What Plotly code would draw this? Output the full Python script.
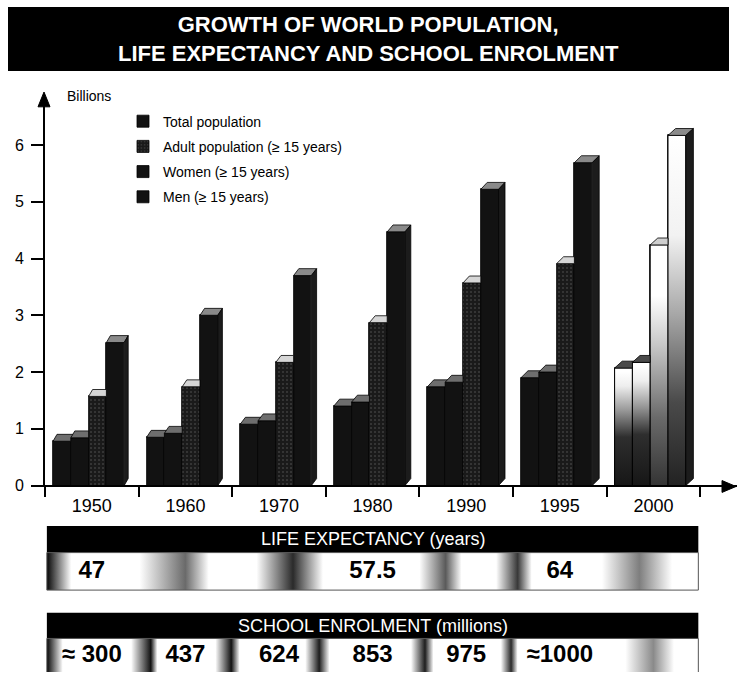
import plotly.graph_objects as go

# ---------------------------------------------------------------- data
years = [1950, 1960, 1970, 1980, 1990, 1995, 2000]
total_pop = [2.52, 3.00, 3.70, 4.47, 5.22, 5.69, 6.17]   # billions
adult_pop = [1.57, 1.74, 2.17, 2.87, 3.57, 3.91, 4.24]   # >= 15 years
women_15 = [0.78, 0.85, 1.08, 1.40, 1.74, 1.90, 2.07]
men_15 = [0.84, 0.92, 1.14, 1.47, 1.82, 2.00, 2.17]
projected_year = 2000

y_ticks = [0, 1, 2, 3, 4, 5, 6]

life_years = [1950, 1980, 1995]
life_expectancy = [47, 57.5, 64]

school_years = [1950, 1960, 1970, 1980, 1990, 1995]
school_labels = ["≈ 300", "437", "624", "853", "975", "≈1000"]

# ---------------------------------------------------------------- geometry / style
FONT = "Liberation Sans, Arial, Helvetica, sans-serif"
W, H = 737, 681
ML = 45                      # left margin (px)
PLOT_W = W - ML
PX_PER_GROUP = 93.6
PX_PER_BILLION = 57.5
AXIS_PX = 492                # pixel row of the value axis zero
BAR_W = 17.8 / PX_PER_GROUP
BAR_OFF = 8 / PX_PER_GROUP
DEPTH_DY = 7 / PX_PER_BILLION
X_MAX = PLOT_W / PX_PER_GROUP
Y_MAX = 6.9


def px_x(px):
    return (px - ML) / PLOT_W


def px_y(py):
    return (H - py) / H


def depth_dx(i):
    # side faces widen slightly towards the right (perspective)
    return (4.0 + 0.6 * i) / PX_PER_GROUP


# slot order is left-to-right inside a year group
series = [
    dict(name="Total population", vals=total_pop, slot=3, front="#121212",
         top="#8a8a8a", pattern=None,
         proj_scale=[[0, "#202020"], [0.25, "#4a4a4a"], [0.5, "#a8a8a8"], [0.72, "#f2f2f2"], [1, "#ffffff"]],
         proj_top="#8a8a8a"),
    dict(name="Adult population (≥ 15 years)", vals=adult_pop, slot=2, front="#1a1a1a",
         top="#d6d6d6",
         pattern=dict(shape=".", fgcolor="#5e5e5e", size=4, solidity=0.2, fillmode="overlay"),
         proj_scale=[[0, "#303030"], [0.3, "#6a6a6a"], [0.6, "#c8c8c8"], [0.8, "#ffffff"], [1, "#ffffff"]],
         proj_top="#cfcfcf"),
    dict(name="Women (≥ 15 years)", vals=women_15, slot=0, front="#121212",
         top="#6e6e6e", pattern=None,
         proj_scale=[[0, "#141414"], [0.45, "#2e2e2e"], [0.68, "#9a9a9a"], [0.88, "#eeeeee"], [1, "#ffffff"]],
         proj_top="#4a4a4a"),
    dict(name="Men (≥ 15 years)", vals=men_15, slot=1, front="#121212",
         top="#6e6e6e", pattern=None,
         proj_scale=[[0, "#141414"], [0.45, "#2e2e2e"], [0.68, "#9a9a9a"], [0.88, "#eeeeee"], [1, "#ffffff"]],
         proj_top="#4a4a4a"),
]
by_slot = {s["slot"]: s for s in series}

fig = go.Figure()

# ---------------------------------------------------------------- front faces (real bars)
for s in series:
    xs = [i + BAR_OFF + s["slot"] * BAR_W + BAR_W / 2 for i in range(len(years))]
    marker = dict(color=s["front"], line=dict(color="black", width=0.8))
    if s["pattern"]:
        marker["pattern"] = s["pattern"]
    fig.add_trace(go.Bar(
        x=xs, y=s["vals"], width=BAR_W, name=s["name"], marker=marker,
        legendgroup=s["name"],
        customdata=years, hovertemplate="%{customdata}: %{y} bn<extra>" + s["name"] + "</extra>",
        xaxis="x", yaxis="y",
    ))

# projected year: shaded front faces
pi = years.index(projected_year)
for slot in range(4):
    s = by_slot[slot]
    v = s["vals"][pi]
    x0 = pi + BAR_OFF + slot * BAR_W
    x1 = x0 + BAR_W
    fig.add_trace(go.Scatter(
        x=[x0, x1, x1, x0, x0], y=[0, 0, v, v, 0], mode="lines", fill="toself",
        line=dict(color="black", width=1),
        fillgradient=dict(type="vertical", colorscale=s["proj_scale"], start=0, stop=v),
        showlegend=False, hoverinfo="skip", xaxis="x", yaxis="y",
    ))


# ---------------------------------------------------------------- 3-D tops and sides
def top_face(i, slot):
    v = by_slot[slot]["vals"][i]
    x0 = i + BAR_OFF + slot * BAR_W
    x1 = x0 + BAR_W
    dx, dy = depth_dx(i), DEPTH_DY
    vn = by_slot[slot + 1]["vals"][i] if slot < 3 else None
    if vn is None or vn <= v:
        pts = [(x0, v), (x1, v), (x1 + dx, v + dy), (x0 + dx, v + dy)]
    elif vn >= v + dy:
        pts = [(x0, v), (x1, v), (x1, v + dy), (x0 + dx, v + dy)]
    else:
        t = (vn - v) / dy
        pts = [(x0, v), (x1, v), (x1, vn), (x1 + dx * t, vn), (x1 + dx, v + dy), (x0 + dx, v + dy)]
    return pts


def add_polys(polys, color, lw=0.8):
    xs, ys = [], []
    for pts in polys:
        for (px, py) in pts + [pts[0]]:
            xs.append(px)
            ys.append(py)
        xs.append(None)
        ys.append(None)
    fig.add_trace(go.Scatter(
        x=xs, y=ys, mode="lines", fill="toself", fillcolor=color,
        line=dict(color="black", width=lw), showlegend=False, hoverinfo="skip",
        xaxis="x", yaxis="y",
    ))


for slot in range(4):
    s = by_slot[slot]
    groups = {}
    for i, yr in enumerate(years):
        col = s["proj_top"] if yr == projected_year else s["top"]
        groups.setdefault(col, []).append(top_face(i, slot))
    for col, polys in groups.items():
        add_polys(polys, col)

side_polys = []
for i in range(len(years)):
    v = total_pop[i]
    x1 = i + BAR_OFF + 4 * BAR_W
    dx, dy = depth_dx(i), DEPTH_DY
    side_polys.append([(x1, 0), (x1 + dx, dy), (x1 + dx, v + dy), (x1, v)])
add_polys(side_polys, "#1c1c1c")

# ---------------------------------------------------------------- lower panels
life_blobs = [  # (start, darkest, end, colour) along the year axis
    (0.02, 0.02, 0.28, "#050505"),
    (1.01, 1.50, 1.75, "#6a6a6a"),
    (2.26, 2.65, 2.97, "#2a2a2a"),
    (4.00, 4.28, 4.45, "#5a5a5a"),
    (4.82, 5.05, 5.20, "#383838"),
    (5.95, 6.35, 6.70, "#7e7e7e"),
]
school_blobs = [
    (0.02, 0.02, 0.19, "#050505"),
    (0.92, 1.13, 1.20, "#121212"),
    (1.82, 1.99, 2.08, "#121212"),
    (2.78, 2.93, 3.04, "#1e1e1e"),
    (3.91, 4.06, 4.15, "#1e1e1e"),
    (4.87, 4.98, 5.05, "#2a2a2a"),
    (6.20, 6.50, 6.72, "#8a8a8a"),
]
PANEL_X0, PANEL_X1 = 0.02, 6.98
LIFE_HEAD = (533, 560)
LIFE_ROW = (560, 598)
SCHOOL_HEAD = (621, 647)
SCHOOL_ROW = (647, 690)


def add_blobs(blobs, row):
    for (a, p, b, col) in blobs:
        if p <= a:
            scale = [[0, col], [1, "#ffffff"]]
        else:
            scale = [[0, "#ffffff"], [(p - a) / (b - a), col], [1, "#ffffff"]]
        fig.add_trace(go.Scatter(
            x=[a, b, b, a, a], y=[row[0], row[0], row[1], row[1], row[0]],
            mode="lines", fill="toself", line=dict(width=0),
            fillgradient=dict(type="horizontal", colorscale=scale, start=a, stop=b),
            showlegend=False, hoverinfo="skip", xaxis="x2", yaxis="y2",
        ))


add_blobs(life_blobs, LIFE_ROW)
add_blobs(school_blobs, SCHOOL_ROW)

VALUE_FONT = dict(family=FONT, size=24, color="black", weight="bold")
fig.add_trace(go.Scatter(
    x=[years.index(y) + 0.5 for y in life_years],
    y=[(LIFE_ROW[0] + LIFE_ROW[1]) / 2 + 1] * len(life_years),
    mode="text", text=[f"{v:g}" for v in life_expectancy], textfont=VALUE_FONT,
    showlegend=False, hoverinfo="skip", xaxis="x2", yaxis="y2",
))
fig.add_trace(go.Scatter(
    x=[years.index(y) + 0.5 for y in school_years],
    y=[665] * len(school_years),
    mode="text", text=school_labels, textfont=VALUE_FONT,
    showlegend=False, hoverinfo="skip", xaxis="x2", yaxis="y2",
))

shapes = []
for (head, row) in [(LIFE_HEAD, LIFE_ROW), (SCHOOL_HEAD, SCHOOL_ROW)]:
    shapes.append(dict(type="rect", xref="x2", yref="y2", x0=PANEL_X0, x1=PANEL_X1,
                       y0=head[0], y1=head[1], fillcolor="black", line=dict(width=0), layer="above"))
    shapes.append(dict(type="rect", xref="x2", yref="y2", x0=PANEL_X0, x1=PANEL_X1,
                       y0=row[0], y1=row[1], fillcolor="rgba(0,0,0,0)",
                       line=dict(color="#555", width=1), layer="above"))

# title band
shapes.append(dict(type="rect", xref="paper", yref="paper",
                   x0=px_x(8), x1=px_x(729), y0=px_y(72), y1=px_y(7),
                   fillcolor="black", line=dict(width=0)))

# arrowheads at the ends of both axes
ax_x = ML - 1          # centre of the 2px value-axis line
ax_y = AXIS_PX + 1     # centre of the 2px category-axis line
top_tip = AXIS_PX - Y_MAX * PX_PER_BILLION
shapes.append(dict(type="path", xref="paper", yref="paper", fillcolor="black",
                   line=dict(color="black", width=1),
                   path=f"M {px_x(ax_x)},{px_y(top_tip - 2)} L {px_x(ax_x - 6)},{px_y(top_tip + 13)} "
                        f"L {px_x(ax_x + 6)},{px_y(top_tip + 13)} Z"))
shapes.append(dict(type="path", xref="paper", yref="paper", fillcolor="black",
                   line=dict(color="black", width=1),
                   path=f"M {px_x(W - 1)},{px_y(ax_y)} L {px_x(W - 15)},{px_y(ax_y - 6)} "
                        f"L {px_x(W - 15)},{px_y(ax_y + 6)} Z"))

annotations = [
    dict(text="GROWTH OF WORLD POPULATION,<br>LIFE EXPECTANCY AND SCHOOL ENROLMENT",
         xref="paper", yref="paper", x=px_x(368), y=px_y(40),
         xanchor="center", yanchor="middle", showarrow=False,
         font=dict(family=FONT, size=22, color="white", weight="bold"), align="center"),
    dict(text="LIFE EXPECTANCY (years)", xref="x2", yref="y2", x=3.5,
         y=(LIFE_HEAD[0] + LIFE_HEAD[1]) / 2, xanchor="center", yanchor="middle", showarrow=False,
         font=dict(family=FONT, size=18, color="white")),
    dict(text="SCHOOL ENROLMENT (millions)", xref="x2", yref="y2", x=3.5,
         y=(SCHOOL_HEAD[0] + SCHOOL_HEAD[1]) / 2, xanchor="center", yanchor="middle",
         showarrow=False, font=dict(family=FONT, size=18, color="white")),
    dict(text="Billions", xref="paper", yref="paper", x=px_x(65), y=px_y(97),
         xanchor="left", yanchor="middle", showarrow=False,
         font=dict(family=FONT, size=14, color="black")),
]

fig.update_layout(
    width=W, height=H,
    margin=dict(l=ML, r=0, t=0, b=0),
    paper_bgcolor="white", plot_bgcolor="rgba(0,0,0,0)",
    barmode="overlay", bargap=0,
    font=dict(family=FONT, color="black"),
    showlegend=True,
    legend=dict(x=px_x(123), y=px_y(107), xanchor="left", yanchor="top",
                bgcolor="rgba(0,0,0,0)", font=dict(family=FONT, size=14),
                traceorder="grouped", tracegroupgap=4, itemclick=False, itemdoubleclick=False),
    xaxis=dict(range=[0, X_MAX], domain=[0, 1], anchor="y",
               tickvals=[i + 0.5 for i in range(len(years))], ticktext=[str(y) for y in years],
               ticks="", tickfont=dict(family=FONT, size=18), ticklabelstandoff=3,
               minor=dict(tickvals=list(range(len(years) + 1)), ticks="outside",
                          ticklen=10, tickwidth=2, tickcolor="black"),
               showline=True, linecolor="black", linewidth=2, showgrid=False, zeroline=False,
               fixedrange=True),
    yaxis=dict(range=[0, Y_MAX], domain=[px_y(AXIS_PX), px_y(AXIS_PX - Y_MAX * PX_PER_BILLION)],
               anchor="x", tickvals=y_ticks, ticks="outside", ticklen=12, tickwidth=2,
               tickcolor="black", tickfont=dict(family=FONT, size=16), ticklabelstandoff=4,
               showline=True, linecolor="black", linewidth=2, showgrid=False, zeroline=False,
               fixedrange=True),
    xaxis2=dict(range=[0, X_MAX], domain=[0, 1], anchor="y2", visible=False, fixedrange=True),
    yaxis2=dict(range=[H, 521], domain=[0, px_y(521)], anchor="x2", visible=False,
                fixedrange=True),
    shapes=shapes,
    annotations=annotations,
)

fig.write_html("out.html")
